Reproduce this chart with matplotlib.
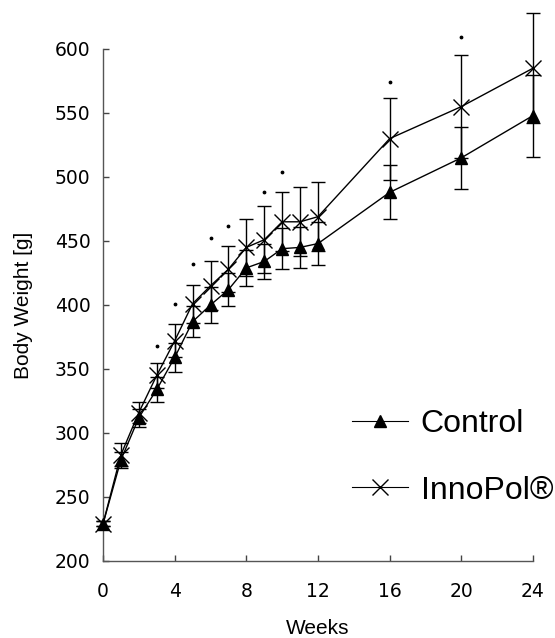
import matplotlib
matplotlib.use("Agg")
import matplotlib.pyplot as plt
from matplotlib.lines import Line2D

weeks = [0, 1, 2, 3, 4, 5, 6, 7, 8, 9, 10, 11, 12, 16, 20, 24]

control_mean = [229, 279, 312, 334, 359, 387, 400, 412, 429, 434, 444, 445, 448, 488, 515, 548]
control_err = [2, 6, 7, 10, 11, 12, 14, 13, 14, 14, 16, 16, 17, 21, 24, 32]

innopol_mean = [229, 283, 316, 345, 372, 401, 415, 428, 445, 451, 465, 465, 469, 530, 555, 585]
innopol_err = [2, 9, 8, 10, 13, 15, 19, 18, 22, 26, 23, 27, 27, 32, 40, 43]

# significance marks (p < 0.05)
sig_weeks = [3, 4, 5, 6, 7, 9, 10, 16, 20]
sig_y = [368, 401, 432, 452, 462, 488, 504, 574, 609]

x_ticks = [0, 4, 8, 12, 16, 20, 24]
y_ticks = [200, 250, 300, 350, 400, 450, 500, 550, 600]

plt.rcParams['font.family'] = ['Liberation Sans', 'DejaVu Sans']

fig = plt.figure(figsize=(5.55, 6.38), dpi=100)
ax = fig.add_axes([0.1856, 0.1207, 0.7748, 0.8025])

ax.errorbar(weeks, control_mean, yerr=control_err, color='black', lw=1,
            marker='^', markersize=9, capsize=5, elinewidth=1, capthick=1,
            clip_on=False, zorder=3)
ax.errorbar(weeks, innopol_mean, yerr=innopol_err, color='black', lw=1,
            marker='x', markersize=12, mew=1, capsize=5, elinewidth=1, capthick=1,
            clip_on=False, zorder=3)
ax.scatter(sig_weeks, sig_y, s=3, color='black', clip_on=False, zorder=4)

ax.set_xlim(0, 24)
ax.set_ylim(200, 600)
ax.set_xticks(x_ticks)
ax.set_yticks(y_ticks)
for lab in ax.get_xticklabels() + ax.get_yticklabels():
    lab.set_family('DejaVu Sans')
    lab.set_fontsize(13.5)
ax.tick_params(direction='in', length=4, width=1, color='#444444')
ax.tick_params(axis='y', pad=9)
ax.tick_params(axis='x', pad=15)

for side in ['top', 'right']:
    ax.spines[side].set_visible(False)
for side in ['left', 'bottom']:
    ax.spines[side].set_color('#555555')
    ax.spines[side].set_linewidth(1)

ax.set_xlabel('Weeks', fontsize=15, labelpad=13)
ax.set_ylabel('Body Weight [g]', fontsize=15, labelpad=16)

handles = [
    Line2D([], [], color='black', lw=0.8, marker='^', markersize=9),
    Line2D([], [], color='black', lw=0.8, marker='x', markersize=12, mew=1),
]
ax.legend(handles, ['Control', 'InnoPol®'], loc='upper left',
          bbox_to_anchor=(0.579, 0.297), frameon=False, fontsize=23,
          handlelength=1.75, handletextpad=0.4, labelspacing=1.15,
          borderpad=0, borderaxespad=0)

fig.savefig('out.png', dpi=100)
